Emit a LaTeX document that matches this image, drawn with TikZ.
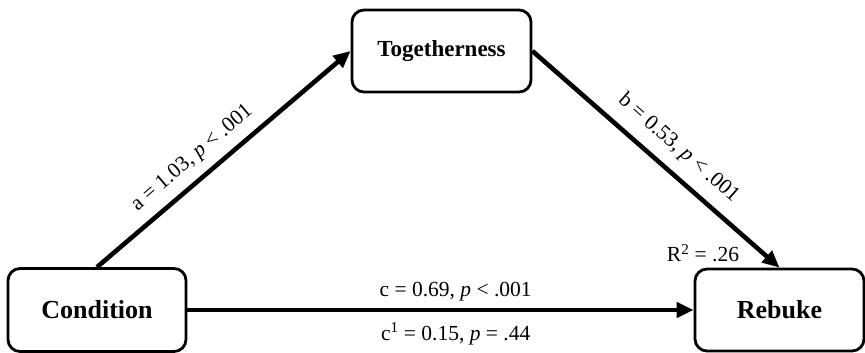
\documentclass[tikz,border=0pt]{standalone}
\usepackage{fontspec}
\setmainfont{Liberation Serif}
\usetikzlibrary{arrows.meta}
\tikzset{
  varbox/.style={draw=black, line width=2.8pt, rounded corners=12pt, fill=white,
    inner sep=0pt, font=\fontsize{26}{30}\selectfont\bfseries},
  patharrow/.style={line width=4.6pt, -{Triangle[length=17pt,width=15pt]}},
  lbl/.style={font=\fontsize{21.5}{25}\selectfont, inner sep=0pt}
}
\begin{document}
\begin{tikzpicture}[x=1pt,y=1pt]
\useasboundingbox (0,0) rectangle (865,353);
\node[varbox, minimum width=178pt, minimum height=83pt] (cond) at (97,43) {Condition};
\node[varbox, minimum width=169pt, minimum height=82pt] (reb) at (779.5,43) {Rebuke};
\node[varbox, minimum width=179pt, minimum height=82pt, font=\fontsize{23}{27}\selectfont\bfseries] (tog) at (441.5,302) {Togetherness};
\draw[patharrow] (cond.north) -- node[lbl, sloped, pos=0.43, yshift=21pt] {a = 1.03, \textit{p} < .001} (tog.west);
\draw[patharrow] (tog.east) -- node[lbl, sloped, pos=0.53, yshift=23pt] {b = 0.53, \textit{p} < .001} (reb.north);
\draw[patharrow] (cond.east) -- node[lbl, pos=0.53, yshift=18pt] {c = 0.69, \textit{p} < .001}
  node[lbl, pos=0.53, yshift=-24pt] {c\textsuperscript{1} = 0.15, \textit{p} = .44} (reb.west);
\node[lbl] (r2) at (703,100) {R\textsuperscript{2} = .26};
\end{tikzpicture}
\end{document}
